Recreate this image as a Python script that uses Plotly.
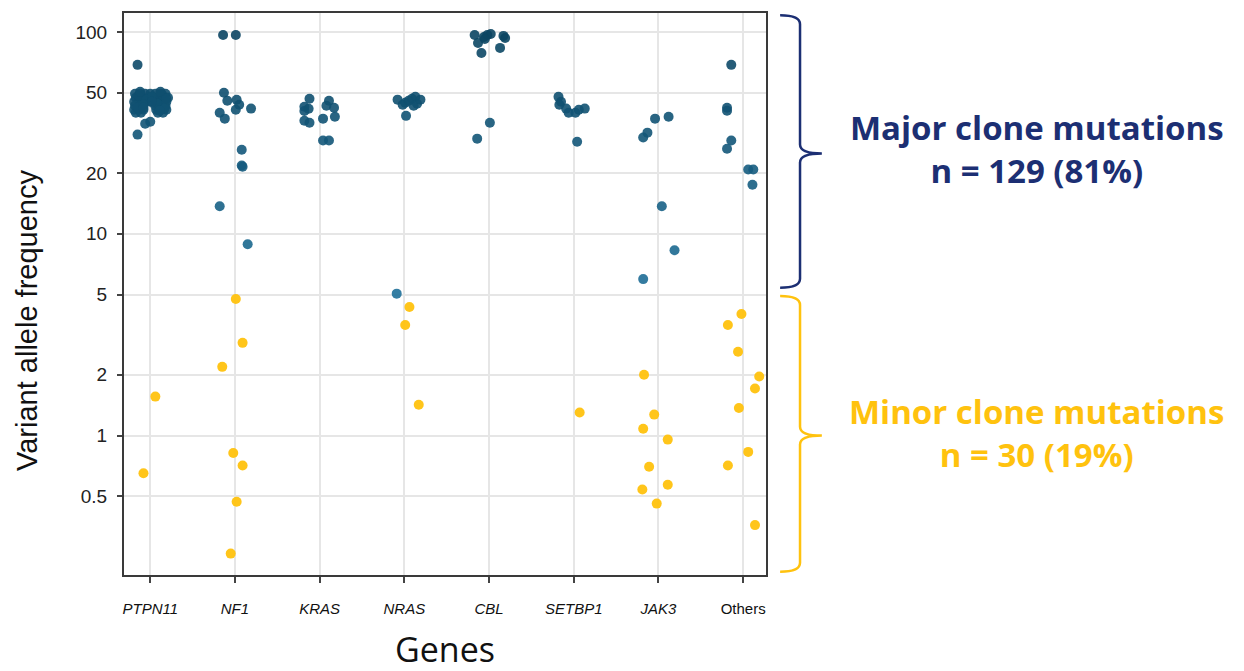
import numpy as np
import plotly.graph_objects as go

genes = ["PTPN11", "NF1", "KRAS", "NRAS", "CBL", "SETBP1", "JAK3", "Others"]
tick_text = ["<i>PTPN11</i>", "<i>NF1</i>", "<i>KRAS</i>", "<i>NRAS</i>", "<i>CBL</i>",
             "<i>SETBP1</i>", "<i>JAK3</i>", "Others"]
y_ticks = [0.5, 1, 2, 5, 10, 20, 50, 100]

# Major clone mutations (VAF >= 5): values and jitter offsets
major_vaf = {
    "PTPN11": [49.4, 49.4, 49.4, 49.4, 49.4, 49.4, 49.4,
               47.2, 47.2, 47.2, 47.2, 47.2, 47.2, 47.2,
               45.1, 45.1, 45.1, 45.1, 45.1, 45.1, 45.1,
               43.1, 43.1, 43.1, 43.1, 43.1,
               41.2, 41.2, 41.2, 41.2, 41.2, 41.2,
               39.8, 39.8, 39.8, 39.8,
               48.3, 48.9, 46.2, 44.1, 47.7, 42.1, 41.7, 43.6, 45.1,
               50.6, 50.6, 42.1, 40.7, 46.7,
               35.1, 35.9, 31.0, 68.7],
    "NF1": [96.6, 96.6, 50.0, 45.6, 46.1, 43.6, 41.2, 41.7, 39.8, 37.2, 26.1, 21.8, 21.5, 13.7, 8.87],
    "KRAS": [46.7, 42.6, 40.6, 41.6, 36.3, 35.5, 45.6, 43.1, 42.1, 38.0, 37.2, 29.0, 29.0],
    "NRAS": [46.2, 43.6, 44.6, 46.7, 47.7, 44.1, 43.1, 45.6, 46.2, 38.4, 5.05],
    "CBL": [96.6, 88.2, 94.5, 96.6, 97.8, 92.3, 95.6, 93.4, 83.4, 78.7, 35.5, 29.6],
    "SETBP1": [47.7, 45.1, 43.6, 41.7, 39.8, 39.8, 41.2, 41.7, 28.6],
    "JAK3": [37.2, 38.0, 31.7, 30.0, 13.7, 8.29, 5.96],
    "Others": [68.7, 42.1, 40.7, 29.0, 26.4, 20.8, 20.8, 17.5],
}
major_jit = {
    "PTPN11": [-0.18, -0.12, -0.06, 0.0, 0.06, 0.12, 0.18,
               -0.17, -0.09, -0.02, 0.04, 0.09, 0.15, 0.21,
               -0.19, -0.13, -0.07, 0.0, 0.07, 0.13, 0.19,
               -0.18, -0.11, 0.06, 0.12, 0.18,
               -0.19, -0.14, -0.08, 0.07, 0.13, 0.19,
               -0.17, -0.11, 0.09, 0.15,
               -0.14, 0.14, -0.05, 0.08, 0.02, -0.15, 0.17, -0.08, 0.02,
               -0.12, 0.12, -0.08, 0.11, 0.19,
               -0.06, 0.0, -0.15, -0.15],
    "NF1": [-0.14, 0.01, -0.13, -0.09, 0.02, 0.05, 0.01, 0.19, -0.18, -0.12, 0.08, 0.08, 0.09, -0.18, 0.15],
    "KRAS": [-0.12, -0.18, -0.18, -0.13, -0.18, -0.12, 0.11, 0.08, 0.17, 0.18, 0.04, 0.04, 0.11],
    "NRAS": [-0.08, -0.02, 0.01, 0.09, 0.13, 0.15, 0.11, 0.05, 0.19, 0.02, -0.09],
    "CBL": [-0.17, -0.13, -0.06, -0.02, 0.02, -0.05, 0.17, 0.19, 0.13, -0.09, 0.01, -0.14],
    "SETBP1": [-0.18, -0.15, -0.17, -0.09, -0.06, 0.02, 0.06, 0.13, 0.04],
    "JAK3": [-0.04, 0.12, -0.13, -0.18, 0.04, 0.19, -0.18],
    "Others": [-0.14, -0.19, -0.19, -0.14, -0.19, 0.06, 0.12, 0.11],
}

# Minor clone mutations (VAF < 5)
minor_vaf = {
    "PTPN11": [1.56, 0.65],
    "NF1": [4.75, 2.88, 2.19, 0.82, 0.71, 0.47, 0.26],
    "KRAS": [],
    "NRAS": [4.34, 3.53, 1.42],
    "CBL": [],
    "SETBP1": [1.30],
    "JAK3": [2.00, 1.27, 1.08, 0.955, 0.70, 0.57, 0.54, 0.46],
    "Others": [4.0, 3.53, 2.60, 1.96, 1.71, 1.37, 0.83, 0.71, 0.36],
}
minor_jit = {
    "PTPN11": [0.06, -0.08],
    "NF1": [0.01, 0.09, -0.15, -0.02, 0.09, 0.02, -0.05],
    "KRAS": [],
    "NRAS": [0.06, 0.01, 0.17],
    "CBL": [],
    "SETBP1": [0.07],
    "JAK3": [-0.17, -0.05, -0.18, 0.11, -0.11, 0.11, -0.19, -0.02],
    "Others": [-0.02, -0.18, -0.06, 0.19, 0.14, -0.05, 0.06, -0.18, 0.14],
}

NAVY = "#1c2f73"
YELLOW = "#ffc20e"

def collect(vals, jits):
    xs, ys = [], []
    for i, g in enumerate(genes):
        for v, j in zip(vals[g], jits[g]):
            xs.append(i + j)
            ys.append(v)
    return xs, ys

mx, my = collect(major_vaf, major_jit)
nx, ny = collect(minor_vaf, minor_jit)

fig = go.Figure()
fig.add_trace(go.Scatter(
    x=mx, y=my, mode="markers", name="Major",
    marker=dict(size=10, color=np.log10(my), colorscale=[[0, "#1f7099"], [1, "#0b4562"]],
                cmin=np.log10(5), cmax=2, opacity=0.9, line=dict(width=0)),
    showlegend=False, hoverinfo="x+y"))
fig.add_trace(go.Scatter(
    x=nx, y=ny, mode="markers", name="Minor",
    marker=dict(size=10, color=YELLOW, opacity=0.95, line=dict(width=0)),
    showlegend=False, hoverinfo="x+y"))

def brace(top, mid, bottom, xl=1.022, xs=1.053, xm=1.087):
    r = 0.016
    return (f"M {xl},{top} Q {xs},{top} {xs},{top - r} L {xs},{mid + r} "
            f"Q {xs},{mid} {xm},{mid} Q {xs},{mid} {xs},{mid - r} "
            f"L {xs},{bottom + r} Q {xs},{bottom} {xl},{bottom}")

fig.add_shape(type="path", xref="paper", yref="paper", path=brace(0.996, 0.750, 0.511),
              line=dict(color=NAVY, width=2.5))
fig.add_shape(type="path", xref="paper", yref="paper", path=brace(0.4965, 0.248, 0.006),
              line=dict(color=YELLOW, width=2.5))

ann_font = dict(family="Open Sans", size=33, color=NAVY, weight="bold")
fig.add_annotation(xref="paper", yref="paper", x=1.422, y=0.758,
                   text="Major clone mutations<br>n = 129 (81%)",
                   showarrow=False, font=ann_font, xanchor="center", yanchor="middle",
                   align="center")
fig.add_annotation(xref="paper", yref="paper", x=1.422, y=0.253,
                   text="Minor clone mutations<br>n = 30 (19%)",
                   showarrow=False, font=dict(ann_font, color=YELLOW),
                   xanchor="center", yanchor="middle", align="center")

# y-axis title as rotated annotation
fig.add_annotation(xref="paper", yref="paper", x=0, y=0.452, xshift=-97,
                   text="Variant allele frequency", textangle=-90, showarrow=False,
                   font=dict(family="Liberation Sans", size=29, color="#111"),
                   xanchor="center", yanchor="middle")

fig.update_layout(
    width=1244, height=671,
    margin=dict(l=116, r=486, t=3, b=104),
    paper_bgcolor="white", plot_bgcolor="white",
    font=dict(family="Liberation Sans", color="#222"),
)
fig.update_xaxes(
    range=[-0.31, 7.27], tickmode="array", tickvals=list(range(len(genes))), ticktext=tick_text,
    showgrid=True, gridcolor="#e6e6e6", gridwidth=2, zeroline=False,
    showline=True, linecolor="#3a3a3a", linewidth=2, mirror=True,
    ticks="outside", ticklen=6, tickwidth=2, tickcolor="#444",
    tickfont=dict(size=15, color="#111"), ticklabelstandoff=13,
    title=dict(text="Genes", font=dict(family="Open Sans", size=34, color="#111"), standoff=22),
)
fig.update_yaxes(
    type="log", range=[-0.691, 2.094], tickmode="array", tickvals=y_ticks,
    ticktext=[str(v) for v in y_ticks],
    showgrid=True, gridcolor="#e6e6e6", gridwidth=2, zeroline=False,
    showline=True, linecolor="#3a3a3a", linewidth=2, mirror=True,
    ticks="outside", ticklen=5, tickwidth=1.5, tickcolor="#444",
    tickfont=dict(size=19, color="#222"), ticklabelstandoff=6,
)

fig.write_html("out.html")
